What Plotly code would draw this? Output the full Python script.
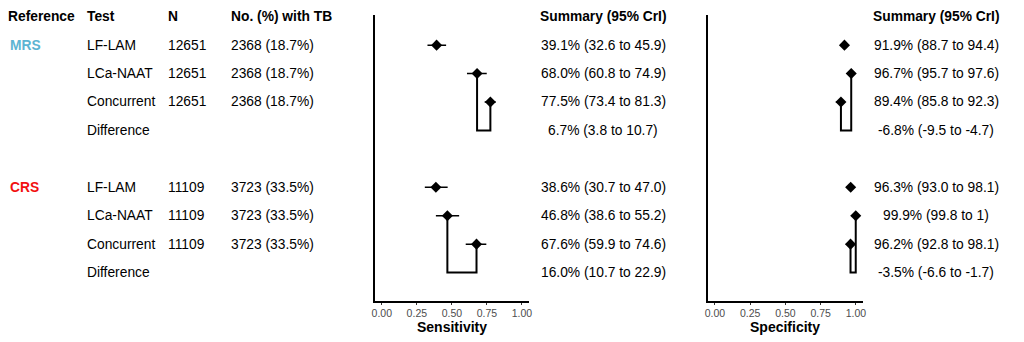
import plotly.graph_objects as go

# ---- data -------------------------------------------------------------
references = ["MRS", "CRS"]
ref_colors = ["#5DB4D2", "#F21010"]
tests = ["LF-LAM", "LCa-NAAT", "Concurrent", "Difference"]
n_total = [12651, 11109]
n_tb = [2368, 3723]
pct_tb = [18.7, 33.5]

# sensitivity (%) per reference: LF-LAM, LCa-NAAT, Concurrent
sens_est = [[39.1, 68.0, 77.5], [38.6, 46.8, 67.6]]
sens_lo = [[32.6, 60.8, 73.4], [30.7, 38.6, 59.9]]
sens_hi = [[45.9, 74.9, 81.3], [47.0, 55.2, 74.6]]
sens_diff = [6.7, 16.0]
sens_diff_lo = [3.8, 10.7]
sens_diff_hi = [10.7, 22.9]

# specificity (%) per reference
spec_est = [[91.9, 96.7, 89.4], [96.3, 99.9, 96.2]]
spec_lo = [[88.7, 95.7, 85.8], [93.0, 99.8, 92.8]]
spec_hi = [[94.4, 97.6, 92.3], [98.1, 100.0, 98.1]]
spec_diff = [-6.8, -3.5]
spec_diff_lo = [-9.5, -6.6]
spec_diff_hi = [-4.7, -1.7]

tick_vals = [0, 0.25, 0.5, 0.75, 1.0]
tick_text = ["0.00", "0.25", "0.50", "0.75", "1.00"]

# row positions (top to bottom); header sits at row 0
group_rows = [[1, 2, 3, 4], [6, 7, 8, 9]]

FONT = "Liberation Sans, Arial, Helvetica, sans-serif"
W, H = 1024, 342
TEXT_SIZE = 13.8


def fmt(v):
    # an upper bound at 100% is printed as the proportion 1
    return "1" if v >= 100 else f"{v:.1f}"


def px(x):
    return x / W


fig = go.Figure()

panels = [
    ("x", "y", sens_est, sens_lo, sens_hi, sens_diff, sens_diff_lo, sens_diff_hi),
    ("x2", "y2", spec_est, spec_lo, spec_hi, spec_diff, spec_diff_lo, spec_diff_hi),
]

for xa, ya, est, lo, hi, d, dlo, dhi in panels:
    for g in range(len(references)):
        rows = group_rows[g]
        p = [v / 100 for v in est[g]]
        # bracket linking LCa-NAAT and Concurrent through the Difference row
        fig.add_trace(go.Scatter(
            x=[p[1], p[1], p[2], p[2]],
            y=[rows[1], rows[3], rows[3], rows[2]],
            mode="lines", line=dict(color="black", width=2),
            xaxis=xa, yaxis=ya, hoverinfo="skip", showlegend=False,
        ))
        fig.add_trace(go.Scatter(
            x=p, y=rows[:3], mode="markers",
            marker=dict(symbol="diamond", size=8.5, color="black"),
            error_x=dict(
                type="data", symmetric=False,
                array=[(h - e) / 100 for h, e in zip(hi[g], est[g])],
                arrayminus=[(e - l) / 100 for l, e in zip(lo[g], est[g])],
                color="black", thickness=1.5, width=0,
            ),
            xaxis=xa, yaxis=ya, showlegend=False,
        ))

axis_common = dict(
    range=[-0.05, 1.05], showgrid=False, zeroline=False,
    showline=True, linecolor="black", linewidth=1.5,
    ticks="outside", ticklen=2, tickwidth=1, tickcolor="#333333",
    tickvals=tick_vals, ticktext=tick_text,
    tickfont=dict(family=FONT, size=10.5, color="#4D4D4D"),
)
yaxis_common = dict(
    range=[10.0, -0.06], showgrid=False, zeroline=False,
    showline=True, linecolor="black", linewidth=1.5,
    showticklabels=False, ticks="",
    domain=[(H - 301) / H, (H - 15) / H],
)

fig.update_layout(
    width=W, height=H,
    margin=dict(l=0, r=0, t=0, b=0),
    paper_bgcolor="white", plot_bgcolor="white",
    xaxis=dict(domain=[px(374), px(529)], anchor="y", **axis_common),
    xaxis2=dict(domain=[px(709), px(865)], anchor="y2", **axis_common),
    yaxis=dict(anchor="x", **yaxis_common),
    yaxis2=dict(anchor="x2", **yaxis_common),
)

annotations = []


def txt(x, row, text, bold=False, color="black", align="left"):
    annotations.append(dict(
        x=px(x), y=row, xref="paper", yref="y",
        text=f"<b>{text}</b>" if bold else text,
        showarrow=False, xanchor=align, yanchor="middle",
        font=dict(family=FONT, size=TEXT_SIZE, color=color),
    ))


# column headers
txt(3, 0, "Reference", bold=True)
txt(82, 0, "Test", bold=True)
txt(164, 0, "N", bold=True)
txt(227, 0, "No. (%) with TB", bold=True)
txt(604, 0, "Summary (95% CrI)", bold=True, align="center")
txt(939, 0, "Summary (95% CrI)", bold=True, align="center")

for g, ref in enumerate(references):
    rows = group_rows[g]
    txt(5, rows[0], ref, bold=True, color=ref_colors[g])
    for i, t in enumerate(tests):
        txt(82, rows[i], t)
        if i < 3:
            txt(164, rows[i], str(n_total[g]))
            txt(227, rows[i], f"{n_tb[g]} ({pct_tb[g]:.1f}%)")
            txt(604, rows[i],
                f"{sens_est[g][i]:.1f}% ({fmt(sens_lo[g][i])} to {fmt(sens_hi[g][i])})",
                align="center")
            txt(939, rows[i],
                f"{spec_est[g][i]:.1f}% ({fmt(spec_lo[g][i])} to {fmt(spec_hi[g][i])})",
                align="center")
    txt(604, rows[3],
        f"{sens_diff[g]:.1f}% ({fmt(sens_diff_lo[g])} to {fmt(sens_diff_hi[g])})",
        align="center")
    txt(939, rows[3],
        f"{spec_diff[g]:.1f}% ({fmt(spec_diff_lo[g])} to {fmt(spec_diff_hi[g])})",
        align="center")

# axis titles
for cx, title in [((374 + 529) / 2 + 0.5, "Sensitivity"), ((709 + 865) / 2, "Specificity")]:
    annotations.append(dict(
        x=px(cx), y=(H - 327) / H, xref="paper", yref="paper",
        text=f"<b>{title}</b>", showarrow=False,
        xanchor="center", yanchor="middle",
        font=dict(family=FONT, size=14, color="black"),
    ))

fig.update_layout(annotations=annotations)

fig.write_html("out.html")
